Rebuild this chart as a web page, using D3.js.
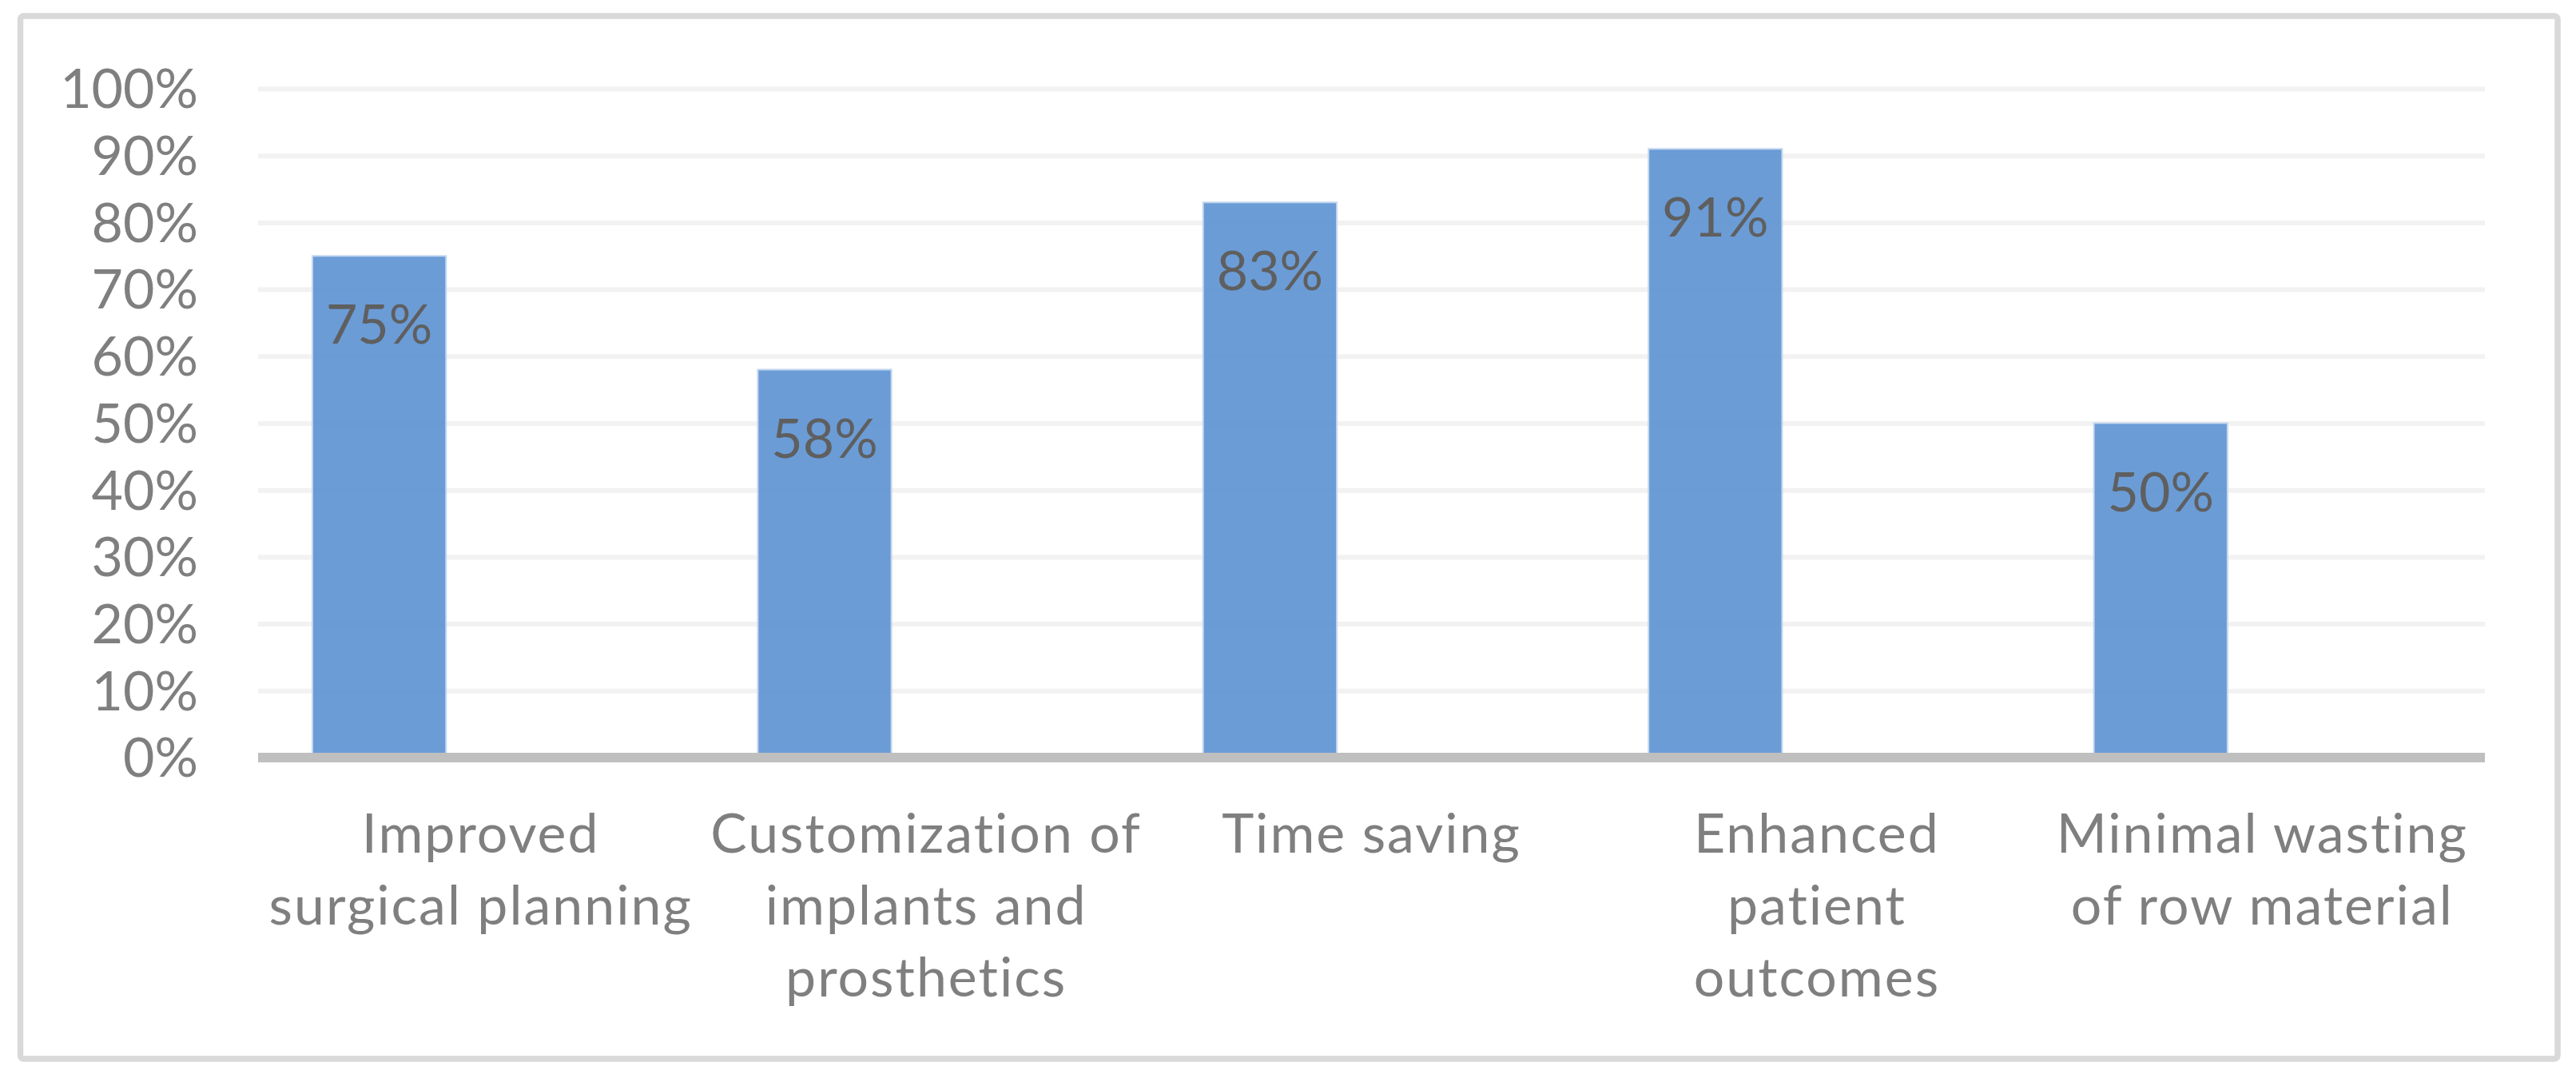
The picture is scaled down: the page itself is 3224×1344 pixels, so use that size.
<!DOCTYPE html>
<html>
<head>
<meta charset="utf-8">
<script src="https://cdn.jsdelivr.net/npm/d3@7"></script>
<style>
  html, body { margin: 0; padding: 0; background: #ffffff; }
  svg { display: block; }
</style>
</head>
<body>
<svg id="chart" width="3224" height="1344"></svg>
<script>
// ---- data ----
const categories = [
  ["Improved", "surgical planning"],
  ["Customization of", "implants and", "prosthetics"],
  ["Time saving"],
  ["Enhanced", "patient", "outcomes"],
  ["Minimal wasting", "of row material"]
];
const values = [0.75, 0.58, 0.83, 0.91, 0.50];
const yTicks = [0, 0.1, 0.2, 0.3, 0.4, 0.5, 0.6, 0.7, 0.8, 0.9, 1.0];

// ---- layout ----
const plot = { left: 323, right: 3110, top: 111, bottom: 948 };
const FONT = "Lato, 'Open Sans', sans-serif";
const FS = 68;

const svg = d3.select("#chart");

// outer frame
svg.append("rect")
  .attr("x", 25.5).attr("y", 20)
  .attr("width", 3201 - 25.5).attr("height", 1325 - 20)
  .attr("rx", 4).attr("ry", 4)
  .attr("fill", "#ffffff")
  .attr("stroke", "#d9d9d9")
  .attr("stroke-width", 7.5);

const x = d3.scaleBand()
  .domain(d3.range(categories.length))
  .range([plot.left, plot.right])
  .paddingInner(0).paddingOuter(0);

const y = d3.scaleLinear()
  .domain([0, 1])
  .range([plot.bottom, plot.top]);

const pct = d3.format(".0%");

// gridlines via axis
const grid = svg.append("g")
  .attr("transform", `translate(${plot.left},0)`)
  .call(d3.axisRight(y).tickValues(yTicks.filter(d => d > 0))
    .tickSize(plot.right - plot.left).tickFormat(""));
grid.select(".domain").remove();
grid.selectAll(".tick line").attr("stroke", "#f2f2f2").attr("stroke-width", 6);

// y axis labels
const yAxis = svg.append("g")
  .attr("transform", `translate(${plot.left},0)`)
  .call(d3.axisLeft(y).tickValues(yTicks).tickFormat(pct).tickSize(0).tickPadding(75));
yAxis.select(".domain").remove();
yAxis.selectAll(".tick text")
  .attr("font-family", FONT)
  .attr("font-size", FS)
  .attr("fill", "#7f7f7f")
  .attr("dy", "0.35em");

// bars (positioned at left portion of each category band)
const barW = x.bandwidth() * 0.30;
const barOff = x.bandwidth() * 0.122;
svg.append("g").selectAll("rect")
  .data(values)
  .join("rect")
  .attr("x", (d, i) => x(i) + barOff)
  .attr("y", d => y(d))
  .attr("width", barW)
  .attr("height", d => y(0) - y(d))
  .attr("fill", "rgb(91,145,210)")
  .attr("fill-opacity", 0.9)
  .attr("stroke", "#c3d6ef")
  .attr("stroke-width", 2);

// data labels
svg.append("g").selectAll("text")
  .data(values)
  .join("text")
  .attr("x", (d, i) => x(i) + barOff + barW / 2)
  .attr("y", d => y(d) + 110)
  .attr("text-anchor", "middle")
  .attr("font-family", FONT)
  .attr("font-size", FS)
  .attr("fill", "#5f5f5f")
  .text(d => pct(d));

// x axis line
svg.append("line")
  .attr("x1", plot.left).attr("x2", plot.right)
  .attr("y1", y(0)).attr("y2", y(0))
  .attr("stroke", "#bfbfbf")
  .attr("stroke-width", 12);

// category labels via axis
const xAxis = svg.append("g")
  .attr("transform", `translate(0,${plot.bottom})`)
  .call(d3.axisBottom(x).tickSize(0).tickFormat(""));
xAxis.select(".domain").remove();
xAxis.selectAll(".tick").each(function(i) {
  const t = d3.select(this).append("text")
    .attr("text-anchor", "middle")
    .attr("font-family", FONT)
    .attr("font-size", FS)
    .attr("letter-spacing", "2px")
    .attr("fill", "#7f7f7f");
  categories[i].forEach((line, k) => {
    t.append("tspan").attr("x", 0).attr("y", 1067 - plot.bottom + k * 90).text(line);
  });
});
</script>
</body>
</html>
